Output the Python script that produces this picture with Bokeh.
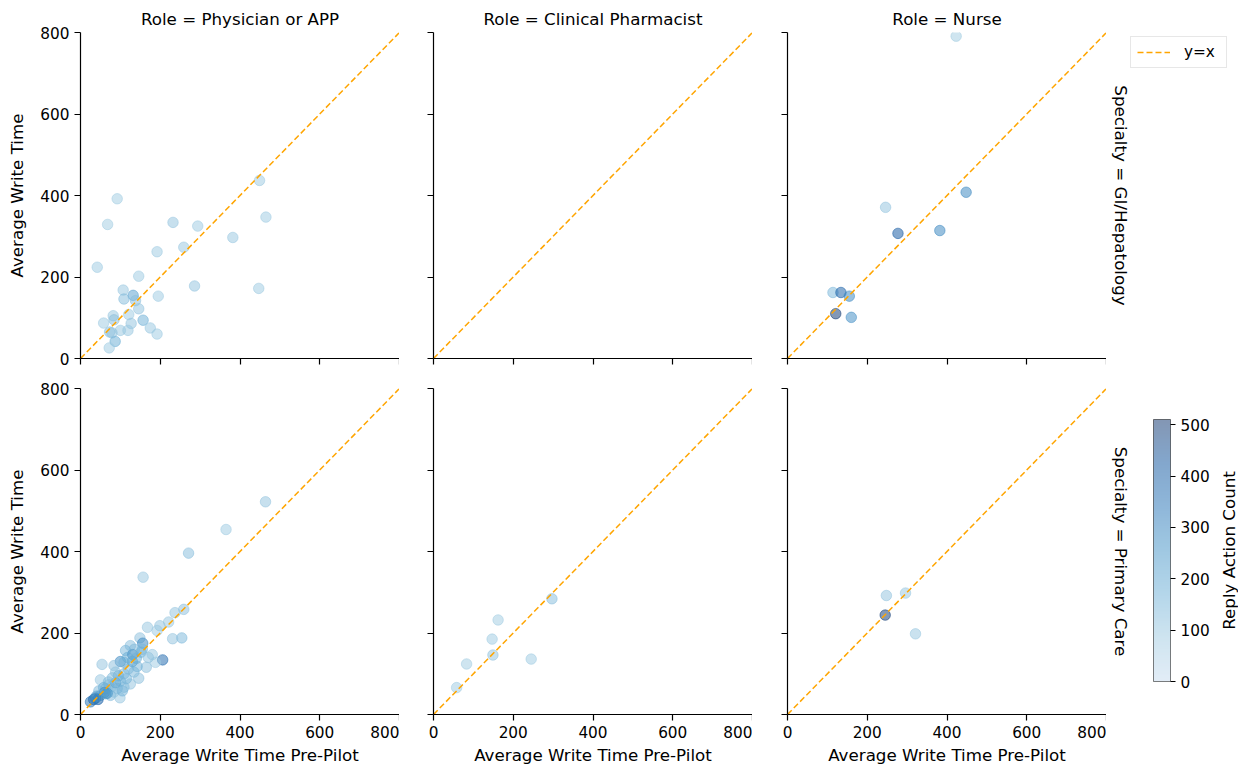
import math
from bokeh.plotting import figure
from bokeh.layouts import gridplot, row
from bokeh.models import (ColumnDataSource, LinearColorMapper, ColorBar, FixedTicker,
                          Label, Legend, LegendItem, Range1d)
from bokeh.palettes import Blues256
from bokeh.embed import file_html
from bokeh.resources import INLINE

# ---------------- data ----------------
roles = ["Physician or APP", "Clinical Pharmacist", "Nurse"]
specialties = ["GI/Hepatology", "Primary Care"]
axis_ticks = [0, 200, 400, 600, 800]
cbar_ticks = [0, 100, 200, 300, 400, 500]
ref_line = [0, 800]

# GI/Hepatology - Physician or APP
gi_phys_pre = [449, 92, 68, 465, 232, 294, 382, 259, 192, 42, 146, 286, 447, 107, 132, 109, 195,
               138, 146, 121, 82, 84, 157, 58, 127, 175, 100, 119, 73, 79, 192, 87, 72]
gi_phys_post = [437, 392, 329, 347, 334, 325, 297, 273, 262, 224, 202, 178, 172, 168, 155, 146, 153,
                142, 122, 108, 105, 95, 94, 87, 86, 75, 69, 69, 65, 63, 60, 42, 26]
gi_phys_count = [90, 80, 80, 90, 110, 90, 100, 100, 90, 90, 90, 110, 90, 100, 220, 130, 90,
                 120, 110, 90, 100, 120, 170, 90, 110, 100, 100, 100, 130, 110, 90, 180, 90]

# GI/Hepatology - Clinical Pharmacist (no data)
gi_pharm_pre, gi_pharm_post, gi_pharm_count = [], [], []

# GI/Hepatology - Nurse
gi_nurse_pre = [448, 246, 277, 382, 114, 134, 155, 121, 160, 423]
gi_nurse_post = [408, 371, 307, 314, 162, 162, 153, 110, 101, 791]
gi_nurse_count = [300, 110, 420, 300, 150, 400, 290, 505, 280, 80]

# Primary Care - Physician or APP
pc_phys_pre = [464, 365, 271, 157, 259, 237, 221, 199, 168, 192, 254, 231, 149, 156, 125, 113,
               131, 180, 206, 152, 100, 54, 109, 188, 165, 142, 84, 134, 88, 109, 146, 100,
               125, 50, 71, 92, 79, 109, 63, 46, 60, 84, 75, 99, 50, 33, 44, 25, 63,
               120, 95, 115, 130, 140, 70, 58, 40, 88, 105, 118, 135, 155, 170, 80, 67, 38]
pc_phys_post = [522, 454, 396, 337, 258, 250, 227, 218, 214, 206, 188, 186, 188, 175, 169, 157,
                147, 147, 134, 153, 130, 123, 128, 128, 116, 118, 120, 104, 104, 100, 89, 82,
                75, 85, 73, 64, 69, 67, 63, 58, 54, 55, 47, 41, 47, 37, 37, 31, 51,
                112, 95, 88, 130, 138, 80, 66, 45, 78, 58, 140, 160, 160, 140, 90, 52, 40]
pc_phys_count = [110, 90, 130, 100, 120, 110, 100, 110, 100, 90, 150, 110, 120, 300, 130, 150,
                 320, 100, 380, 180, 280, 110, 160, 90, 120, 160, 120, 150, 110, 140, 120, 170,
                 110, 100, 130, 150, 120, 130, 160, 140, 380, 110, 140, 100, 180, 420, 400, 350, 200,
                 140, 170, 150, 200, 180, 140, 170, 220, 190, 160, 170, 140, 150, 110, 130, 250, 300]

# Primary Care - Clinical Pharmacist
pc_pharm_pre = [58, 83, 147, 149, 162, 245, 297]
pc_pharm_post = [66, 124, 185, 146, 232, 136, 284]
pc_pharm_count = [90, 80, 90, 110, 80, 90, 130]

# Primary Care - Nurse
pc_nurse_pre = [248, 296, 245, 321]
pc_nurse_post = [292, 298, 244, 198]
pc_nurse_count = [110, 100, 500, 100]

panel_data = [
    [(gi_phys_pre, gi_phys_post, gi_phys_count),
     (gi_pharm_pre, gi_pharm_post, gi_pharm_count),
     (gi_nurse_pre, gi_nurse_post, gi_nurse_count)],
    [(pc_phys_pre, pc_phys_post, pc_phys_count),
     (pc_pharm_pre, pc_pharm_post, pc_pharm_count),
     (pc_nurse_pre, pc_nurse_post, pc_nurse_count)],
]

# ---------------- styling ----------------
FONT = "DejaVu Sans"
FS_TICK = "15.3px"
FS_LAB = "16.7px"
LINE_COLOR = "#ffa500"
LINE_DASH = "6 3"
palette = list(reversed(Blues256))[64:]
mapper = LinearColorMapper(palette=palette, low=0, high=510)

col_borders = [(80, 0), (34, 0), (35, 0)]
row_borders = [(32, 20), (10, 57)]
FRAME_W, FRAME_H = 319, 326

figs = []
for r in range(2):
    row_figs = []
    for c in range(3):
        bl, br = col_borders[c]
        bt, bb = row_borders[r]
        p = figure(frame_width=FRAME_W, frame_height=FRAME_H,
                   x_range=Range1d(0, 800), y_range=Range1d(0, 800),
                   output_backend="svg", toolbar_location=None,
                   min_border_left=bl, min_border_right=br,
                   min_border_top=bt, min_border_bottom=bb)
        p.outline_line_color = None
        p.xgrid.visible = False
        p.ygrid.visible = False
        p.background_fill_color = "white"
        p.border_fill_color = "white"
        for ax in (p.xaxis[0], p.yaxis[0]):
            ax.ticker = FixedTicker(ticks=axis_ticks)
            ax.axis_line_color = "black"
            ax.axis_line_width = 1.2
            ax.major_tick_line_color = "black"
            ax.major_tick_line_width = 1.2
            ax.major_tick_in = 0
            ax.major_tick_out = 6
            ax.minor_tick_line_color = None
            ax.major_label_text_font = FONT
            ax.major_label_text_font_size = FS_TICK
            ax.major_label_text_color = "black"
            ax.axis_label_text_font = FONT
            ax.axis_label_text_font_size = FS_LAB
            ax.axis_label_text_font_style = "normal"
            ax.axis_label_text_color = "black"
        if r == 0:
            p.xaxis.major_label_overrides = {t: "" for t in axis_ticks}
            p.xaxis.major_label_standoff = 0
            p.title.text = "Role = " + roles[c]
            p.title.align = "center"
            p.title.text_font = FONT
            p.title.text_font_size = FS_LAB
            p.title.text_font_style = "normal"
            p.title.text_color = "black"
            p.title.standoff = 8
        else:
            p.xaxis.axis_label = "Average Write Time Pre-Pilot"
            p.xaxis.axis_label_standoff = 4
        if c == 0:
            p.yaxis.axis_label = "Average Write Time"
            p.yaxis.axis_label_standoff = 10
        else:
            p.yaxis.major_label_overrides = {t: "" for t in axis_ticks}
            p.yaxis.major_label_standoff = 0

        pre, post, cnt = panel_data[r][c]
        src = ColumnDataSource(dict(x=pre, y=post, n=cnt))
        p.scatter("x", "y", source=src, size=10.5,
                  fill_color={"field": "n", "transform": mapper},
                  line_color={"field": "n", "transform": mapper},
                  fill_alpha=0.5, line_alpha=0.5, line_width=1)
        p.line(ref_line, ref_line, line_color=LINE_COLOR, line_dash=LINE_DASH, line_width=1.5)
        row_figs.append(p)
    figs.append(row_figs)

grid = gridplot(figs, toolbar_location=None)

# ---------------- right-hand side: row titles, legend, colour bar ----------------
SIDE_W, SIDE_H = 132, 771
side = figure(width=SIDE_W, height=SIDE_H, x_range=Range1d(0, SIDE_W), y_range=Range1d(0, SIDE_H),
              output_backend="svg", toolbar_location=None,
              x_axis_location=None, y_axis_location=None,
              min_border_left=0, min_border_right=0, min_border_top=0, min_border_bottom=0)
side.outline_line_color = None
side.xgrid.visible = False
side.ygrid.visible = False
side.background_fill_color = "white"
side.border_fill_color = "white"

for spec, ypos in zip(specialties, [576, 220]):
    side.add_layout(Label(x=14, y=ypos, x_units="screen", y_units="screen",
                          text="Specialty = " + spec, angle=-math.pi / 2,
                          text_align="center", text_baseline="middle",
                          text_font=FONT, text_font_size=FS_LAB, text_color="black"))

# legend proxy: a line renderer with no drawable points (NaN), used only for the legend swatch
proxy_src = ColumnDataSource(dict(x=[math.nan, math.nan], y=[math.nan, math.nan]))
legend_line = side.line("x", "y", source=proxy_src, line_color=LINE_COLOR,
                        line_dash=LINE_DASH, line_width=1.5)
legend = Legend(items=[LegendItem(label="y=x", renderers=[legend_line])],
                location=(24, 703), orientation="vertical",
                label_text_font=FONT, label_text_font_size=FS_TICK,
                label_text_color="black",
                border_line_color="#d0d0d0", border_line_width=1,
                background_fill_color="white", background_fill_alpha=1,
                glyph_width=33, glyph_height=16, label_height=16, label_width=36,
                label_standoff=14, padding=6, margin=0, spacing=0)
side.add_layout(legend, "center")

cb = ColorBar(color_mapper=mapper, ticker=FixedTicker(ticks=cbar_ticks),
              width=17, height=262, location=(47, 90), padding=0,
              scale_alpha=0.5, bar_line_color="black", bar_line_width=1,
              major_tick_line_color="black", major_tick_in=0, major_tick_out=5,
              minor_tick_line_color=None,
              major_label_text_font=FONT, major_label_text_font_size=FS_TICK,
              major_label_text_color="black", label_standoff=5,
              border_line_color=None, background_fill_alpha=0)
side.add_layout(cb, "center")
side.add_layout(Label(x=122, y=221, x_units="screen", y_units="screen",
                      text="Reply Action Count", angle=math.pi / 2,
                      text_align="center", text_baseline="middle",
                      text_font=FONT, text_font_size=FS_LAB, text_color="black"))

layout = row(grid, side)
open("out.html", "w").write(file_html(layout, INLINE))
